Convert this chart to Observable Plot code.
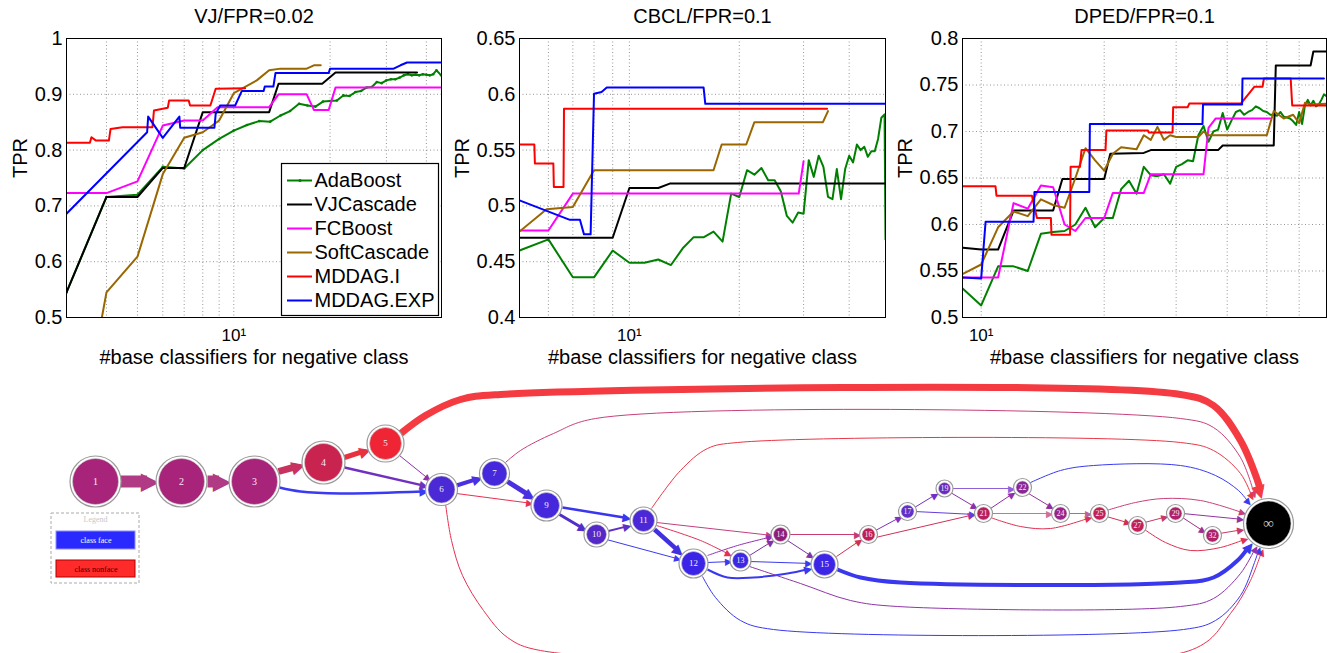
<!DOCTYPE html>
<html><head><meta charset="utf-8">
<script src="https://cdn.jsdelivr.net/npm/d3@7"></script>
<script src="https://cdn.jsdelivr.net/npm/@observablehq/plot@0.6"></script>
<style>
html,body{margin:0;padding:0;background:#fff;}
#root{position:relative;width:1327px;height:653px;overflow:hidden;background:#fff;}
.panel{position:absolute;}
.panel svg{display:block;}
</style></head><body>
<div id="root"></div>
<script>
// ---------------- series / legend ----------------
const SERIES = ["AdaBoost","VJCascade","FCBoost","SoftCascade","MDDAG.I","MDDAG.EXP"];
const SERIES_COLORS = ["#008000","#000000","#ff00ff","#996600","#ff0000","#0000ff"];
const X_LABEL = "#base classifiers for negative class";
const Y_LABEL = "TPR";
const X_TICKS = [10];
const X_TICK_LABELS = ["10¹"];

// ---------------- VJ / FPR=0.02 ----------------
const vjYTicks = [0.5,0.6,0.7,0.8,0.9,1];
const vjXGrid = [4,5,6,7,8,9,10,20,30,40];
const vjAda = [[3,.545],[4,.716],[5,.72],[6,.77],[7,.767],[8,.80],[9,.82],[10,.835],[11,.845],[12,.852],[13,.851],[14,.862],[15,.87],[16,.883],[17,.88],[18,.878],[19,.887],[20,.888],[21,.889],[22,.898],[23,.897],[24,.904],[25,.906],[26,.912],[27,.913],[28,.922],[29,.92],[30,.925],[31,.927],[32,.927],[33,.93],[34,.934],[35,.936],[36,.934],[37,.935],[38,.934],[39,.936],[40,.935],[41,.934],[42,.936],[43,.943],[44.5,.934]];
const vjVJ = [[3,.545],[4,.716],[5,.716],[6,.768],[7,.768],[8,.868],[12.9,.868],[13.8,.919],[18.9,.919],[20.8,.939],[37.4,.939]];
const vjFC = [[3,.723],[4,.723],[5,.744],[6,.844],[7,.853],[8,.853],[8.9,.877],[12.9,.877],[13.8,.90],[16.9,.90],[17.8,.872],[19.8,.872],[20.8,.912],[44.6,.912]];
const vjSoft = [[3.87,.5],[4,.545],[5,.609],[6,.757],[7,.822],[8,.832],[9,.853],[10,.902],[11.8,.925],[12.9,.943],[14,.946],[16.9,.946],[17.8,.952],[18.7,.952]];
const vjMI = [[3,.813],[3.55,.813],[3.59,.823],[3.71,.817],[4.07,.817],[4.12,.838],[4.49,.841],[5.57,.841],[5.63,.871],[6.22,.876],[6.28,.889],[7.23,.889],[7.3,.88],[8.45,.88],[8.78,.91],[10.85,.911]];
const vjME = [[3,.686],[5.36,.832],[5.4,.86],[6,.822],[6.76,.86],[6.8,.84],[8.7,.84],[8.78,.865],[9.07,.88],[10.1,.88],[10.6,.906],[12.4,.906],[12.5,.914],[13.3,.914],[13.5,.938],[19.8,.938],[20,.946],[31.6,.946],[33.2,.952],[34.8,.957],[44.6,.957]];

// ---------------- CBCL / FPR=0.1 ----------------
const cbYTicks = [0.4,0.45,0.5,0.55,0.6,0.65];
const cbXGrid = [6,7,8,9,10,20,30,40];
const cbAda = [[5,.46],[6,.47],[7,.436],[8,.436],[9,.46],[10,.449],[11,.449],[12,.452],[13,.447],[14,.462],[15,.472],[16,.472],[17,.477],[18,.468],[19,.511],[20,.508],[21,.532],[22,.528],[23,.534],[24,.523],[25,.523],[26,.513],[27,.491],[28,.485],[29,.494],[30,.493],[31,.541],[32,.526],[33,.545],[34,.535],[35,.508],[36,.506],[37,.533],[38,.506],[39,.533],[40,.545],[41,.539],[42,.555],[43,.55],[44,.553],[45,.544],[46,.549],[47,.549],[48,.56],[49,.579],[50,.582],[50.3,.47]];
const cbVJ = [[5,.4715],[9,.4715],[10,.516],[12,.516],[12.9,.52],[50.3,.52]];
const cbFC = [[5,.478],[6,.478],[7,.511],[29.1,.511],[30,.54]];
const cbSoft = [[5,.477],[5.93,.497],[7,.499],[8,.532],[17,.532],[17.9,.555],[20.9,.555],[22,.575],[33.9,.575],[35,.585]];
const cbMI = [[5,.555],[5.49,.555],[5.51,.538],[6.19,.538],[6.21,.517],[6.6,.517],[6.62,.587],[34.8,.587]];
const cbME = [[5,.505],[6.87,.4875],[7.32,.4875],[7.51,.4745],[7.83,.4745],[8.0,.6005],[8.39,.602],[8.67,.606],[15.97,.606],[16.14,.5915],[50.3,.5915]];

// ---------------- DPED / FPR=0.1 ----------------
const dpYTicks = [0.5,0.55,0.6,0.65,0.7,0.75,0.8];
const dpXGrid = [10,20,30,40,50,60];
const dpAda = [[9.02,.531],[10,.513],[11,.555],[12,.555],[13,.55],[14,.59],[15,.592],[16,.593],[17,.6],[18,.618],[19,.597],[20,.607],[21,.607],[22,.638],[23,.647],[24,.633],[25,.662],[26,.653],[27,.652],[28,.654],[29,.644],[30,.662],[31,.665],[32,.669],[33,.668],[34,.696],[35,.706],[36,.689],[37,.7],[38,.702],[39,.72],[40,.702],[41,.712],[42,.721],[43,.723],[44,.718],[45,.721],[46,.723],[47,.727],[48,.725],[49,.722],[50,.721],[51,.718],[52,.718],[53,.717],[54,.721],[55,.716],[56,.715],[57,.714],[58,.711],[59,.707],[60,.721],[61,.708],[62,.728],[63,.734],[64,.728],[65,.733],[66,.727],[67,.729],[68,.734],[69,.74],[70,.738]];
const dpVJ = [[9.02,.575],[10,.573],[11,.573],[12,.615],[15,.615],[15.8,.649],[20,.649],[20.7,.676],[25,.677],[26,.68],[38,.68],[39,.685],[52,.685],[52.6,.771],[64,.771],[65,.786],[70,.786]];
const dpFC = [[9.02,.543],[11,.543],[12,.623],[13,.617],[14,.642],[15,.64],[16,.6],[17,.593],[18,.607],[20,.607],[21,.634],[25,.634],[26,.654],[35,.654],[36,.704],[37.5,.714],[51,.714]];
const dpSoft = [[9.02,.547],[10,.557],[11,.597],[12,.614],[13,.609],[14,.627],[15,.621],[16,.618],[17,.65],[18,.682],[19,.669],[20,.658],[21,.676],[22,.683],[24,.681],[25,.696],[26,.691],[27,.705],[28,.691],[29,.696],[30,.694],[34,.694],[35,.7],[36,.696],[50,.696],[52,.722],[55,.714],[58,.718],[60,.709],[62,.731],[64,.729],[70,.73]];
const dpMI = [[9.02,.641],[10.84,.641],[10.9,.631],[13.31,.631],[13.69,.607],[14.81,.607],[14.86,.589],[16.5,.589],[16.55,.662],[17.45,.662],[17.6,.68],[20.15,.68],[20.25,.701],[25.6,.701],[25.7,.699],[29.4,.699],[29.5,.726],[32,.726],[32.3,.73],[43.2,.73],[46.6,.748],[48.8,.748],[49.2,.757],[57.2,.757],[57.7,.728],[70,.728]];
const dpME = [[9.02,.543],[10,.542],[10.25,.603],[13.43,.603],[13.5,.635],[18.39,.635],[18.45,.708],[34.8,.708],[34.9,.729],[43.5,.729],[43.6,.757],[69,.757]];

// ---------------- MDDAG graph (layout units) ----------------
const nodeId    = ["1","2","3","4","5","6","7","9","10","11","12","13","14","15","16","17","19","21","22","24","25","27","29","32","∞"];
const nodeX     = [95,181,254,323,385,441,494,546,596,643,693,740,780,824,868,907,944,983,1022,1060,1099,1137,1175,1212,1268];
const nodeY     = [481,481,481,462,443,489,473,505,534,520,563,560,534,564,534,511,488,513,487,513,513,525,513,535,523];
const nodeR     = [23,23,23,19,16,13.5,12.5,13,10,11,12,8,7,11,6.5,6.5,6,6.5,6.5,6.5,6.5,6.5,6.5,6.5,22.5];
const nodeColor = ["#a8247a","#a8247a","#a8247a","#c8244f","#ef2535","#4b2ad6","#4628dc","#4628dc","#5528c8","#4a28d8","#3b24e8","#3c28e4","#8e1e78","#3c25e6","#c01f55","#6030c8","#6a2cc0","#b81f5e","#8a2698","#9a2288","#c22058","#c22058","#b0206a","#b0206a","#000000"];

const edgeFrom  = ["1","2","3","4","5","3","4","5","6","7","6","6","7","9","9","10","10","11","11","11","11","12","12","12","12","13","13","13","14","14","15","15","16","16","17","17","19","19","21","21","21","22","22","24","25","25","27","27","29","29","32"];
const edgeTo    = ["2","3","4","5","∞","6","6","6","7","9","9","∞","∞","11","10","11","12","12","14","13","∞","14","13","15","∞","14","15","∞","16","15","16","∞","17","21","19","21","22","21","22","24","25","24","∞","25","27","∞","29","∞","32","∞","∞"];
const edgeWidth = [12,12,7,5,7,2.5,2.5,1,4,5,1,1,1,2.5,3,2,1,4.5,1,1,1,1,1,2,1,1,1,1,1,1,1,4,1,1,1,1,1,1,1,1,1,1,1,1,1,1,1,1,1,1,1];
const edgeColor = ["#b03a84","#b03a84","#c8325e","#e8303e","#f53b42","#3a3af2","#7030c0","#9030a8","#4a30e0","#4a30e0","#e83050","#e83050","#c8407a","#3a35ee","#5030c8","#6030c8","#3a3af0","#4030e0","#c04080","#e03058","#e83848","#9030b0","#3a3af0","#3a38ee","#3a3af0","#8030a8","#3a3af0","#9035a8","#c83a70","#8030a8","#d03050","#3a38ee","#8030c0","#d03058","#7030c8","#6040d8","#9060d8","#8a30a8","#9030a8","#d07098","#e03050","#9030a0","#3a3af0","#c060a0","#d03058","#c8407a","#c83868","#e03050","#a03090","#9035a0","#c83868"];
const edgePath = [
  [[120,481],[157,481]],
  [[207,481],[229,481]],
  [[278,471],[303,464]],
  [[344,457],[369,449]],
  [[399,434],[425,415],[460,399],[500,394],[1180,394],[1213,405],[1240,440],[1257,480],[1262,497]],
  [[279,487],[300,491],[340,493],[427,491]],
  [[344,467],[427,486]],
  [[399,455],[430,480]],
  [[456,485],[481,477]],
  [[507,481],[534,498]],
  [[456,493],[532,503]],
  [[445,503],[451,540],[462,575],[483,610],[507,637],[540,650],[1192,649],[1230,613],[1250,580],[1262,549]],
  [[505,462],[520,450],[553,433],[595,418],[1180,418],[1213,427],[1240,457],[1255,497]],
  [[562,507],[630,518]],
  [[559,514],[586,530]],
  [[606,531],[630,525]],
  [[606,539],[680,559]],
  [[654,529],[682,554]],
  [[656,522],[772,535]],
  [[656,525],[700,540],[731,555]],
  [[651,508],[680,470],[707,448],[737,442],[1180,442],[1213,450],[1240,473],[1253,499]],
  [[707,555],[737,545],[772,536]],
  [[707,562],[731,561]],
  [[707,569],[727,577],[753,577],[787,573],[811,568]],
  [[702,576],[715,597],[740,620],[773,629],[1183,629],[1215,620],[1240,595],[1254,562],[1259,547]],
  [[749,555],[773,540]],
  [[749,561],[811,563]],
  [[749,566],[800,583],[850,600],[897,606],[1180,606],[1213,598],[1240,573],[1256,546]],
  [[788,534],[860,534]],
  [[787,540],[813,557]],
  [[836,556],[861,539]],
  [[837,569],[860,577],[900,582],[1180,582],[1213,577],[1237,560],[1251,543]],
  [[875,530],[901,516]],
  [[875,537],[974,514]],
  [[914,507],[937,493]],
  [[914,511],[975,514]],
  [[951,488],[1014,488]],
  [[950,492],[977,508]],
  [[990,508],[1014,492]],
  [[990,513],[1052,513]],
  [[990,517],[1020,526],[1050,528],[1091,517]],
  [[1028,493],[1053,508]],
  [[1028,483],[1060,470],[1093,465],[1180,465],[1215,475],[1238,490],[1250,504]],
  [[1067,513],[1091,513]],
  [[1106,516],[1130,523]],
  [[1106,510],[1135,502],[1163,498],[1200,500],[1245,513]],
  [[1144,522],[1167,516]],
  [[1144,529],[1165,542],[1190,550],[1220,547],[1247,538]],
  [[1182,517],[1205,532]],
  [[1182,513],[1243,519]],
  [[1219,533],[1243,529]]
];
// graph legend
const gLegendTitle = "Legend";
const gLegendLabels = ["class face","class nonface"];
const gLegendFill = ["#2a2aff","#ff2a2a"];
const gLegendStroke = ["#8c8cff","#b00000"];
const gLegendText = ["#ffffff","#400000"];

// ---------------- drawing ----------------
const root = document.getElementById("root");
function panel(left, top, width, node){
  const d = document.createElement("div");
  d.className = "panel";
  d.style.left = left + "px"; d.style.top = top + "px"; d.style.width = width + "px";
  d.appendChild(node); root.appendChild(d);
}
const FONT = "Liberation Sans, Arial, Helvetica, sans-serif";
const fmt = d => String(Math.round(d * 100) / 100);
const hasAxisMarks = typeof Plot.axisX === "function";

function lineChart(def){
  const marks = [
    Plot.ruleX(def.xGrid, {x: d => d, stroke: "#8a8a8a", strokeWidth: 0.9, strokeDasharray: "1,2.5"}),
    Plot.ruleY(def.yTicks, {y: d => d, stroke: "#8a8a8a", strokeWidth: 0.9, strokeDasharray: "1,2.5"})
  ];
  def.data.forEach((pts, i) => {
    marks.push(Plot.line(pts, {x: d => d[0], y: d => d[1], stroke: SERIES_COLORS[i], strokeWidth: 2, clip: true}));
    if (i === 0 && def.dots) marks.push(Plot.dot(pts, {x: d => d[0], y: d => d[1], r: 1.3, fill: SERIES_COLORS[0], clip: true}));
  });
  marks.push(Plot.frame({stroke: "#000", strokeWidth: 1}));
  const xFormat = d => X_TICK_LABELS[X_TICKS.indexOf(d)] ?? "";
  if (hasAxisMarks) {
    marks.push(Plot.axisX({ticks: X_TICKS, tickFormat: xFormat, tickSize: 0, tickPadding: 11, fontSize: 17, label: null}));
    marks.push(Plot.axisY({ticks: def.yTicks, tickFormat: fmt, tickSize: 0, tickPadding: 4, fontSize: 20, label: null}));
  }
  marks.push(Plot.text([def.title], {text: d => d, frameAnchor: "top", lineAnchor: "middle", dy: -22, fontSize: 20}));
  marks.push(Plot.text([X_LABEL], {text: d => d, frameAnchor: "bottom", lineAnchor: "middle", dy: 40, fontSize: 20}));
  marks.push(Plot.text([Y_LABEL], {text: d => d, frameAnchor: "left", lineAnchor: "middle", dx: def.tprDx, rotate: -90, fontSize: 20}));
  return Plot.plot({
    width: def.width, height: 370,
    marginLeft: def.mL, marginRight: def.mR, marginTop: 38, marginBottom: 53,
    x: {type: "log", domain: def.xDomain, ticks: X_TICKS, tickFormat: xFormat, tickSize: 0, tickPadding: 11, label: null},
    y: {domain: def.yDomain, ticks: def.yTicks, tickFormat: fmt, tickSize: 0, tickPadding: 4, label: null},
    style: {fontFamily: FONT, fontSize: "20px", background: "transparent", color: "#000", overflow: "visible"},
    marks
  });
}

const charts = [
  {left: 0, width: 445, mL: 66, mR: 4, title: "VJ/FPR=0.02", xDomain: [3, 44.6], yDomain: [0.5, 1], yTicks: vjYTicks, xGrid: vjXGrid, data: [vjAda, vjVJ, vjFC, vjSoft, vjMI, vjME], tprDx: -46, dots: true},
  {left: 445, width: 445, mL: 74, mR: 5, title: "CBCL/FPR=0.1", xDomain: [5, 50.3], yDomain: [0.4, 0.65], yTicks: cbYTicks, xGrid: cbXGrid, data: [cbAda, cbVJ, cbFC, cbSoft, cbMI, cbME], tprDx: -57},
  {left: 890, width: 437, mL: 72, mR: 1, title: "DPED/FPR=0.1", xDomain: [9, 70], yDomain: [0.5, 0.8], yTicks: dpYTicks, xGrid: dpXGrid, data: [dpAda, dpVJ, dpFC, dpSoft, dpMI, dpME], tprDx: -57}
];
charts.forEach(def => panel(def.left, 0, def.width, lineChart(def)));

// legend of first chart
const legend = Plot.plot({
  width: 157, height: 152, margin: 0,
  x: {domain: [0, 157], range: [0, 157], axis: null},
  y: {type: "point", domain: SERIES, range: [16, 138], padding: 0, axis: null},
  style: {fontFamily: FONT, fontSize: "20px", background: "transparent", overflow: "visible"},
  marks: [
    Plot.frame({fill: "#fff", stroke: "#000", strokeWidth: 1.2}),
    Plot.ruleY(SERIES, {y: d => d, x1: 6, x2: 31, stroke: (d, i) => SERIES_COLORS[i], strokeWidth: 2}),
    Plot.dot([SERIES[0]], {y: d => d, x: 18.5, r: 1.6, fill: SERIES_COLORS[0]}),
    Plot.text(SERIES, {y: d => d, x: 33, text: d => d, textAnchor: "start", fontSize: 20})
  ]
});
panel(281, 163, 157, legend);

// graph
const nodes = nodeId.map((id, i) => ({id, x: nodeX[i], y: nodeY[i], r: nodeR[i], c: nodeColor[i]}));
const lineRows = [], heads = [];
edgePath.forEach((pts, i) => {
  const w = edgeWidth[i];
  const fs = Math.min(24, 8 + 1.4 * w);
  const L = fs * 0.62;
  const [x1, y1] = pts[pts.length - 2], [x2, y2] = pts[pts.length - 1];
  const dx = x2 - x1, dy = y2 - y1, dd = Math.hypot(dx, dy), ux = dx / dd, uy = dy / dd;
  const trimmed = pts.slice(0, -1).concat([[x2 - ux * L * 0.7, y2 - uy * L * 0.7]]);
  trimmed.forEach(([x, y]) => lineRows.push({id: i, x, y, w, c: edgeColor[i]}));
  heads.push({x: x2 - ux * L / 2, y: y2 - uy * L / 2, a: Math.atan2(dy, dx) * 180 / Math.PI, fs, c: edgeColor[i]});
});
const gLegend = [
  {x1: 51, x2: 139, y1: 513, y2: 583}
];
const gLegendRows = gLegendLabels.map((t, i) => ({t, x1: 56, x2: 135, y1: [531, 560][i], y2: [549, 577][i], f: gLegendFill[i], s: gLegendStroke[i], tc: gLegendText[i]}));

const graph = Plot.plot({
  width: 1327, height: 283, margin: 0,
  x: {domain: [0, 1327], range: [0, 1327], axis: null},
  y: {domain: [370, 653], range: [0, 283], axis: null},
  r: {type: "linear", domain: [0, 30], range: [0, 30]},
  style: {fontFamily: "Liberation Serif, Times New Roman, serif", background: "transparent", overflow: "visible"},
  marks: [
    Plot.line(lineRows, {x: "x", y: "y", z: "id", stroke: "c", strokeWidth: "w", curve: "catmull-rom", strokeLinecap: "butt", strokeLinejoin: "round"}),
    Plot.text(heads, {x: "x", y: "y", text: () => "▶", rotate: "a", fontSize: "fs", fill: "c", fontFamily: "DejaVu Sans", lineAnchor: "middle"}),
    Plot.dot(nodes, {x: "x", y: "y", r: d => d.r + 2.5, fill: "#fff", stroke: "#9a9a9a", strokeWidth: 1.2}),
    Plot.dot(nodes, {x: "x", y: "y", r: "r", fill: "c", stroke: "#d0d0d0", strokeWidth: 0.6}),
    Plot.text(nodes, {x: "x", y: "y", text: "id", fill: d => d.id === "∞" ? "#c8c8c8" : "#f2eaf4", fontSize: d => d.id === "∞" ? 15 : d.r >= 18 ? 10 : d.r >= 9 ? 9 : 8}),
    Plot.rect(gLegend, {x1: "x1", x2: "x2", y1: "y1", y2: "y2", fill: "none", stroke: "#aaa", strokeDasharray: "3,2"}),
    Plot.text([gLegendTitle], {x: 95, y: 519, text: d => d, fill: "#c8c8c8", fontSize: 8}),
    Plot.rect(gLegendRows, {x1: "x1", x2: "x2", y1: "y1", y2: "y2", fill: "f", stroke: "s"}),
    Plot.text(gLegendRows, {x: d => (d.x1 + d.x2) / 2, y: d => (d.y1 + d.y2) / 2, text: "t", fill: "tc", fontSize: 8})
  ]
});
panel(0, 370, 1327, graph);
</script></body></html>
